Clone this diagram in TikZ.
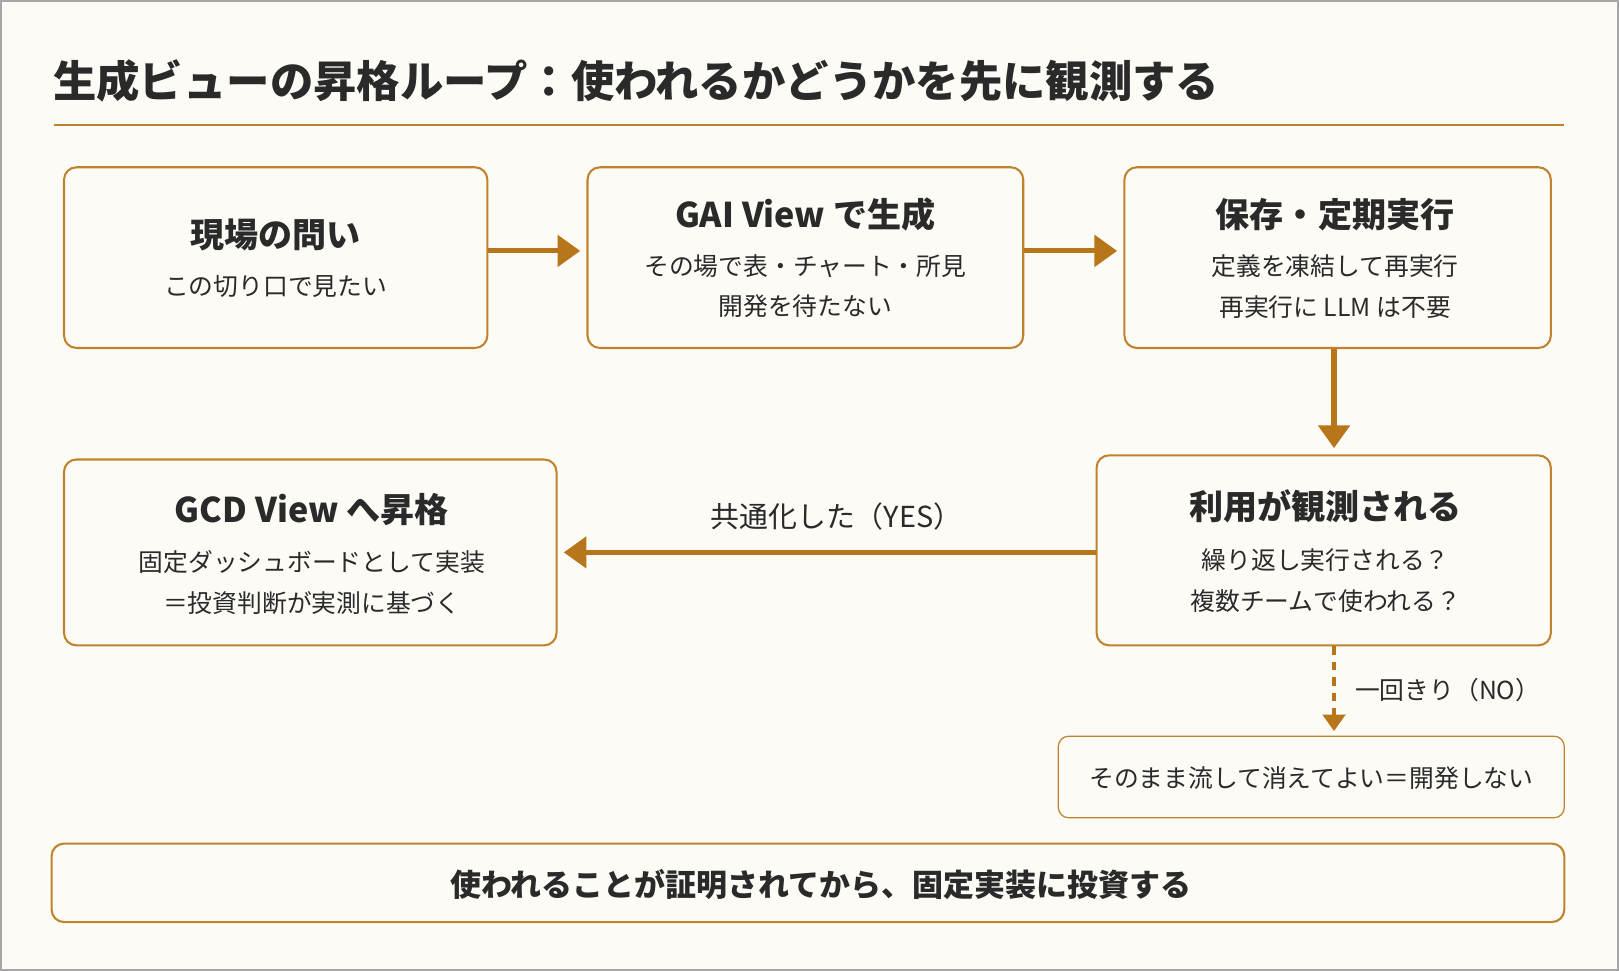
\documentclass[tikz,border=0pt]{standalone}
\usepackage{fontspec}
\setmainfont{Noto Sans CJK JP}
\usetikzlibrary{arrows.meta}
\definecolor{brd}{HTML}{C0822C}
\definecolor{arr}{HTML}{B8761A}
\definecolor{bg}{HTML}{FDFBF6}
\definecolor{txt}{HTML}{2A2A2A}
\begin{document}
\begin{tikzpicture}[x=1pt,y=-1pt,
  box/.style={draw=brd,line width=2pt,rounded corners=12pt,fill=bg},
  ttl/.style={font=\fontsize{33}{37}\selectfont\bfseries,text=txt},
  sub/.style={font=\fontsize{24}{28}\selectfont,text=txt},
  arw/.style={draw=arr,line width=5pt,-{Triangle[length=22pt,width=30pt]}},
  lbl/.style={font=\fontsize{28}{32}\selectfont,text=txt}]
\useasboundingbox (0,0) rectangle (1568,940);
\fill[bg] (0,0) rectangle (1568,940);
\draw[gray!70,line width=2pt] (1,1) rectangle (1567,939);
\node[anchor=west,font=\fontsize{42}{48}\selectfont\bfseries,text=txt] (title) at (48,78) {生成ビューの昇格ループ：使われるかどうかを先に観測する};
\draw[brd,line width=1.5pt] (52,121) -- (1515,121);
% boxes
\draw[box] (62,162) rectangle (472,337);
\draw[box] (569,162) rectangle (991,337);
\draw[box] (1089,162) rectangle (1502,337);
\draw[box] (1062,441) rectangle (1502,625);
\draw[box] (62,445) rectangle (539,625);
\draw[brd,line width=1.2pt,rounded corners=10pt,fill=bg] (1025,713) rectangle (1515,792);
\draw[box] (50,817) rectangle (1515,893);
\node[ttl] (a1) at (267,228) {現場の問い};
\node[sub] (a2) at (267,277) {この切り口で見たい};
\node[ttl] (b1) at (780,208) {GAI View で生成};
\node[sub] (b2) at (780,258) {その場で表・チャート・所見};
\node[sub] (b3) at (780,297) {開発を待たない};
\node[ttl] (c1) at (1293,208) {保存・定期実行};
\node[sub] (c2) at (1293,258) {定義を凍結して再実行};
\node[sub] (c3) at (1293,297) {再実行に LLM は不要};
\node[ttl] (d1) at (1284,490) {利用が観測される};
\node[sub] (d2) at (1284,542) {繰り返し実行される？};
\node[sub] (d3) at (1284,582) {複数チームで使われる？};
\node[ttl] (e1) at (302,493) {GCD View へ昇格};
\node[sub] (e2) at (302,544) {固定ダッシュボードとして実装};
\node[sub] (e3) at (302,584) {＝投資判断が実測に基づく};
\node[sub] (f1) at (1270,754) {そのまま流して消えてよい＝開発しない};
\node[font=\fontsize{30}{34}\selectfont\bfseries,text=txt] (g1) at (795,857) {使われることが証明されてから、固定実装に投資する};
% arrows
\coordinate (p1) at (473,243); \coordinate (p2) at (562,243);
\coordinate (p3) at (992,243); \coordinate (p4) at (1082,243);
\coordinate (p5) at (1292,338); \coordinate (p6) at (1292,434);
\coordinate (p7) at (1061,535); \coordinate (p8) at (546,535);
\coordinate (p9) at (1292,626); \coordinate (p10) at (1292,708);
\draw[arw] (p1) -- (p2);
\draw[arw] (p3) -- (p4);
\draw[arw] (p5) -- (p6);
\draw[arw] (p7) -- (p8);
\draw[draw=arr,line width=3pt,dash pattern=on 8pt off 7pt,-{Triangle[length=16pt,width=22pt]}] (p9) -- (p10);
\node[lbl] (l1) at (810,500) {共通化した（YES）};
\node[sub] (l2) at (1402,668) {一回きり（NO）};
\end{tikzpicture}
\end{document}
